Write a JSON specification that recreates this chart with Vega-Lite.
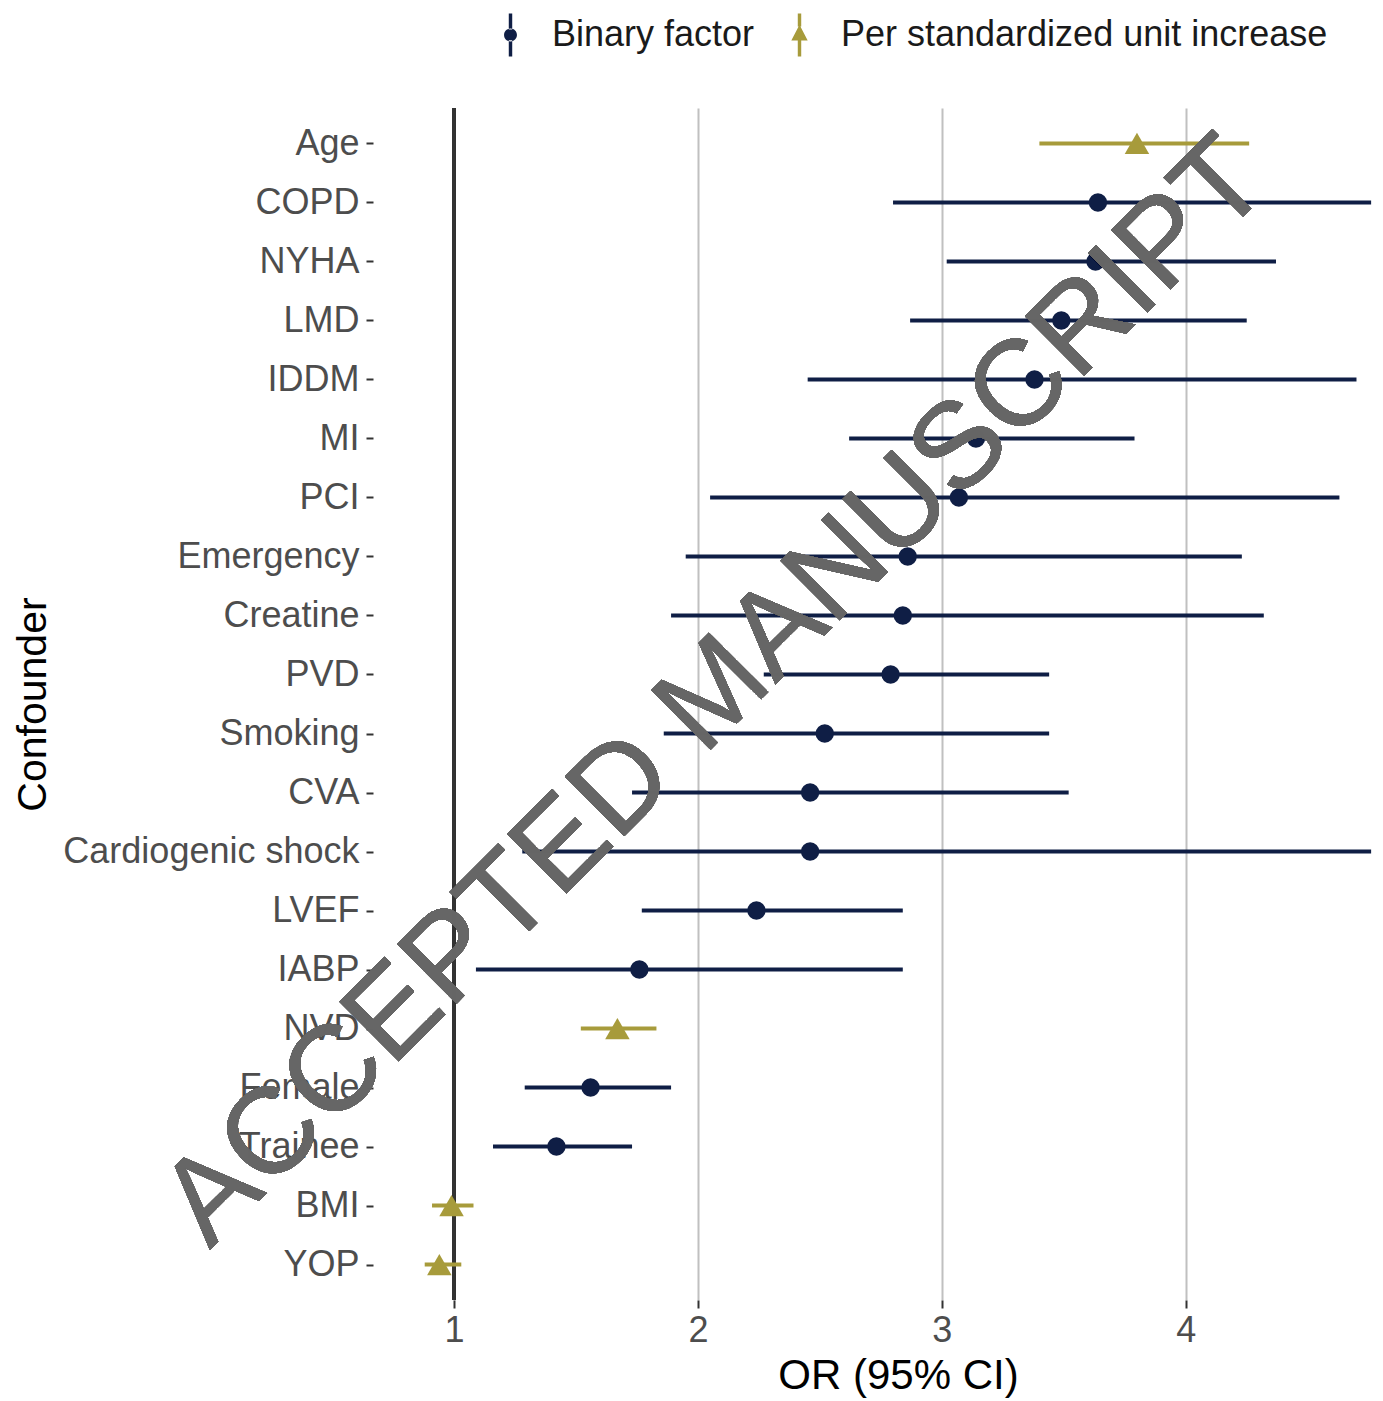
{
  "$schema": "https://vega.github.io/schema/vega-lite/v6.json",
  "autosize": {"type": "none"},
  "padding": {"left": 373, "top": 108, "right": 7, "bottom": 101},
  "width": 1003,
  "height": 1192,
  "background": "white",
  "config": {
    "font": "Liberation Sans",
    "view": {"stroke": null},
    "axis": {"domain": false}
  },
  "data": {
    "values": [
      {"Confounder": "Age", "type": "Per standardized unit increase", "or": 3.80, "lo": 3.40, "hi": 4.26},
      {"Confounder": "COPD", "type": "Binary factor", "or": 3.64, "lo": 2.80, "hi": 4.76},
      {"Confounder": "NYHA", "type": "Binary factor", "or": 3.63, "lo": 3.02, "hi": 4.37},
      {"Confounder": "LMD", "type": "Binary factor", "or": 3.49, "lo": 2.87, "hi": 4.25},
      {"Confounder": "IDDM", "type": "Binary factor", "or": 3.38, "lo": 2.45, "hi": 4.70},
      {"Confounder": "MI", "type": "Binary factor", "or": 3.14, "lo": 2.62, "hi": 3.79},
      {"Confounder": "PCI", "type": "Binary factor", "or": 3.07, "lo": 2.05, "hi": 4.63},
      {"Confounder": "Emergency", "type": "Binary factor", "or": 2.86, "lo": 1.95, "hi": 4.23},
      {"Confounder": "Creatine", "type": "Binary factor", "or": 2.84, "lo": 1.89, "hi": 4.32},
      {"Confounder": "PVD", "type": "Binary factor", "or": 2.79, "lo": 2.27, "hi": 3.44},
      {"Confounder": "Smoking", "type": "Binary factor", "or": 2.52, "lo": 1.86, "hi": 3.44},
      {"Confounder": "CVA", "type": "Binary factor", "or": 2.46, "lo": 1.73, "hi": 3.52},
      {"Confounder": "Cardiogenic shock", "type": "Binary factor", "or": 2.46, "lo": 1.28, "hi": 4.76},
      {"Confounder": "LVEF", "type": "Binary factor", "or": 2.24, "lo": 1.77, "hi": 2.84},
      {"Confounder": "IABP", "type": "Binary factor", "or": 1.76, "lo": 1.09, "hi": 2.84},
      {"Confounder": "NVD", "type": "Per standardized unit increase", "or": 1.67, "lo": 1.52, "hi": 1.83},
      {"Confounder": "Female", "type": "Binary factor", "or": 1.56, "lo": 1.29, "hi": 1.89},
      {"Confounder": "Trainee", "type": "Binary factor", "or": 1.42, "lo": 1.16, "hi": 1.73},
      {"Confounder": "BMI", "type": "Per standardized unit increase", "or": 0.99, "lo": 0.91, "hi": 1.08},
      {"Confounder": "YOP", "type": "Per standardized unit increase", "or": 0.94, "lo": 0.88, "hi": 1.03}
    ]
  },
  "encoding": {
    "y": {
      "field": "Confounder",
      "type": "nominal",
      "scale": {
        "type": "point",
        "padding": 0.6,
        "domain": ["Age", "COPD", "NYHA", "LMD", "IDDM", "MI", "PCI", "Emergency", "Creatine", "PVD", "Smoking", "CVA", "Cardiogenic shock", "LVEF", "IABP", "NVD", "Female", "Trainee", "BMI", "YOP"]
      },
      "axis": {
        "title": "Confounder",
        "titleFontSize": 41,
        "titleFontWeight": "normal",
        "titleColor": "#000000",
        "titleX": -328,
        "titleBaseline": "alphabetic",
        "labelFontSize": 36,
        "labelColor": "#4D4D4D",
        "labelPadding": 7,
        "labelLimit": 0,
        "tickSize": 7,
        "tickWidth": 2,
        "tickColor": "#333333",
        "grid": false
      }
    }
  },
  "layer": [
    {
      "mark": {"type": "rule", "color": "#333333", "strokeWidth": 3},
      "encoding": {
        "x": {"datum": 1, "type": "quantitative"},
        "y": null
      }
    },
    {
      "mark": {"type": "rule", "strokeWidth": 4},
      "encoding": {
        "x": {
          "field": "lo",
          "type": "quantitative",
          "scale": {"domain": [0.668, 4.78], "nice": false, "zero": false},
          "axis": {
            "title": "OR (95% CI)",
            "titleFontSize": 42,
            "titleFontWeight": "normal",
            "titleColor": "#000000",
            "titlePadding": 7,
            "titleX": 525,
            "values": [1, 2, 3, 4],
            "format": "d",
            "labelFontSize": 36,
            "labelColor": "#4D4D4D",
            "labelPadding": 5,
            "tickSize": 8,
            "tickWidth": 2,
            "tickColor": "#333333",
            "grid": true,
            "gridColor": "#C0C0C0",
            "gridWidth": 2
          }
        },
        "x2": {"field": "hi"},
        "color": {
          "field": "type",
          "type": "nominal",
          "scale": {"domain": ["Binary factor", "Per standardized unit increase"], "range": ["#0F1E45", "#A79B3B"]},
          "legend": null
        }
      }
    },
    {
      "mark": {"type": "point", "filled": true, "opacity": 1},
      "encoding": {
        "x": {"field": "or", "type": "quantitative"},
        "color": {
          "field": "type",
          "type": "nominal",
          "scale": {"domain": ["Binary factor", "Per standardized unit increase"], "range": ["#0F1E45", "#A79B3B"]},
          "legend": null
        },
        "shape": {
          "field": "type",
          "type": "nominal",
          "scale": {"domain": ["Binary factor", "Per standardized unit increase"], "range": ["circle", "triangle-up"]},
          "legend": null
        },
        "size": {
          "field": "type",
          "type": "nominal",
          "scale": {"domain": ["Binary factor", "Per standardized unit increase"], "range": [340, 600]},
          "legend": null
        }
      }
    },
    {
      "transform": [{"filter": "false"}],
      "mark": {"type": "point", "filled": true, "opacity": 1, "size": 1850},
      "encoding": {
        "x": {"field": "or", "type": "quantitative"},
        "color": {
          "field": "type",
          "type": "nominal",
          "scale": {"domain": ["Binary factor", "Per standardized unit increase"], "range": ["#0F1E45", "#A79B3B"]},
          "legend": {
            "title": null,
            "orient": "none",
            "legendX": 115,
            "legendY": -96,
            "direction": "horizontal",
            "labelFontSize": 36,
            "labelColor": "#1A1A1A",
            "labelOffset": 19,
            "labelLimit": 0,
            "columnPadding": 22,
            "symbolSize": 1850
          }
        },
        "shape": {
          "field": "type",
          "type": "nominal",
          "scale": {
            "domain": ["Binary factor", "Per standardized unit increase"],
            "range": [
              "M-0.08,-1H0.08V-0.25H-0.08Z M-0.08,0.25H0.08V1H-0.08Z M-0.3,0A0.3,0.3 0 1,0 0.3,0A0.3,0.3 0 1,0 -0.3,0Z",
              "M-0.08,-1H0.08V-0.4H-0.08Z M-0.08,0.26H0.08V1H-0.08Z M0,-0.48L0.38,0.26H-0.38Z"
            ]
          }
        }
      }
    },
    {
      "mark": {
        "type": "text",
        "text": "ACCEPTED MANUSCRIPT",
        "fontSize": 122,
        "angle": -45,
        "align": "center",
        "baseline": "alphabetic",
        "dy": 62,
        "color": "#666666",
        "opacity": 0.88
      },
      "encoding": {
        "x": {"datum": 2.0, "type": "quantitative"},
        "y": {"datum": "PVD", "type": "nominal"}
      }
    }
  ],
  "resolve": {"scale": {"color": "independent", "shape": "independent", "size": "independent"}}
}
